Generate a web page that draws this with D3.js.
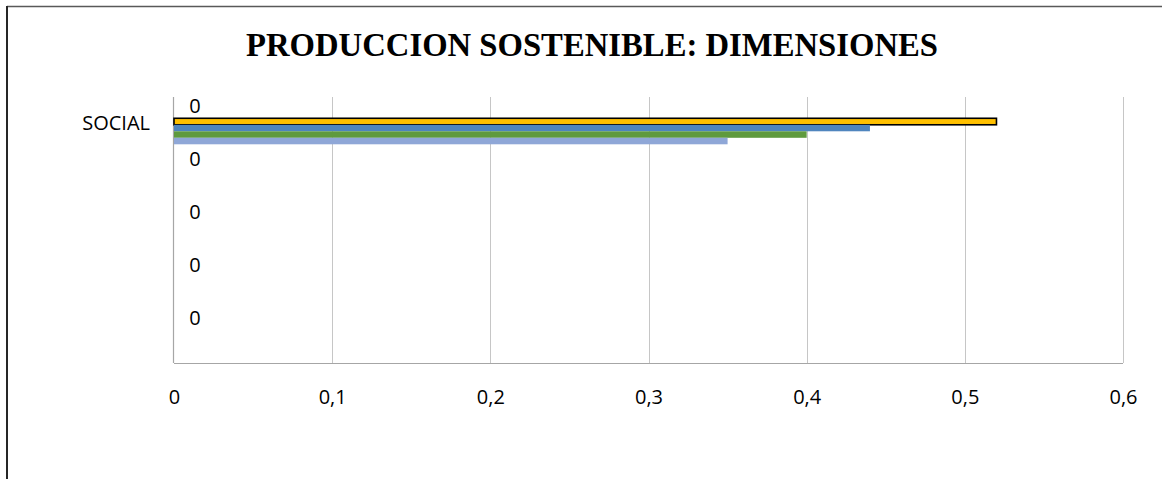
<!DOCTYPE html>
<html>
<head>
<meta charset="utf-8">
<script src="https://cdn.jsdelivr.net/npm/d3@7"></script>
<style>
html,body{margin:0;padding:0;background:#fff;}
svg{display:block;}
</style>
</head>
<body>
<svg id="chart" width="1162" height="479"></svg>
<script>
// ---- data ----
const title = "PRODUCCION SOSTENIBLE: DIMENSIONES";
const categories = ["SOCIAL", "", "", "", ""];
const seriesNames = ["Serie 1", "Serie 2", "Serie 3", "Serie 4"];
const seriesColors = ["#FFC000", "#4F85BE", "#5F9A3E", "#8FA7D7"];
const serie1 = [0.52, 0, 0, 0, 0];
const serie2 = [0.44, 0, 0, 0, 0];
const serie3 = [0.40, 0, 0, 0, 0];
const serie4 = [0.35, 0, 0, 0, 0];
const zeroLabels = ["0", "0", "0", "0", "0"];
const xTicks = [0, 0.1, 0.2, 0.3, 0.4, 0.5, 0.6];
const xTickLabels = ["0", "0,1", "0,2", "0,3", "0,4", "0,5", "0,6"];

const seriesValues = [serie1, serie2, serie3, serie4];

// ---- layout ----
const W = 1162, H = 479;
const plot = {left: 174, right: 1123, top: 97, bottom: 363};
const svg = d3.select("#chart");
const labelFont = "'Open Sans', 'Noto Sans', sans-serif";
const labelSize = 20;

svg.append("rect").attr("width", W).attr("height", H).attr("fill", "#fff");

// chart frame (top and left edges visible)
svg.append("line").attr("x1", 7).attr("x2", W).attr("y1", 6.5).attr("y2", 6.5)
  .attr("stroke", "#595959").attr("stroke-width", 1.5);
svg.append("line").attr("x1", 7).attr("x2", 7).attr("y1", 6).attr("y2", H)
  .attr("stroke", "#262626").attr("stroke-width", 2);

// title
svg.append("text")
  .attr("x", 592).attr("y", 56)
  .attr("text-anchor", "middle")
  .attr("font-family", "'Liberation Serif', 'Times New Roman', serif")
  .attr("font-weight", "bold")
  .attr("font-size", 32.7)
  .attr("fill", "#000")
  .text(title);

// scales
const x = d3.scaleLinear().domain([0, 0.6]).range([plot.left, plot.right]);
const y = d3.scaleBand().domain(d3.range(categories.length)).range([plot.top, plot.bottom]).padding(0);
const bw = y.bandwidth();
const ySub = d3.scaleBand().domain(seriesNames).range([0.40 * bw, 0.889 * bw]).padding(0);

// gridlines
svg.append("g").selectAll("line").data(xTicks.filter(t => t > 0)).join("line")
  .attr("x1", d => Math.round(x(d)) + 0.5).attr("x2", d => Math.round(x(d)) + 0.5)
  .attr("y1", plot.top).attr("y2", plot.bottom)
  .attr("stroke", "#C6C6C6").attr("stroke-width", 1);

// x axis (bottom)
const xAxis = d3.axisBottom(x).tickValues(xTicks)
  .tickFormat((d, i) => xTickLabels[i]).tickSize(0).tickPadding(27);
const gx = svg.append("g").attr("transform", `translate(0,${plot.bottom})`).call(xAxis);
gx.attr("font-family", labelFont).attr("font-size", labelSize);
gx.select(".domain").attr("stroke", "#A6A6A6").attr("stroke-width", 1.2)
  .attr("d", `M${plot.left},0.5H${plot.right}`);
gx.selectAll("text").attr("fill", "#000");

// y axis (left)
const yAxis = d3.axisLeft(y).tickFormat(i => categories[i]).tickSize(0).tickPadding(24);
const gy = svg.append("g").attr("transform", `translate(${plot.left},0)`).call(yAxis);
gy.attr("font-family", labelFont).attr("font-size", labelSize);
gy.select(".domain").attr("stroke", "#A6A6A6").attr("stroke-width", 1.2)
  .attr("d", `M-0.5,${plot.top}V${plot.bottom}`);
gy.selectAll("text").attr("fill", "#000");

// bars
seriesValues.forEach((vals, si) => {
  const name = seriesNames[si];
  svg.append("g").selectAll("rect").data(vals.map((v, i) => ({v, i})).filter(d => d.v > 0)).join("rect")
    .attr("x", x(0))
    .attr("y", d => y(d.i) + ySub(name))
    .attr("width", d => x(d.v) - x(0))
    .attr("height", ySub.bandwidth())
    .attr("fill", seriesColors[si])
    .attr("stroke", si === 0 ? "#000" : "none")
    .attr("stroke-width", si === 0 ? 1.6 : 0);
});

// zero data labels
svg.append("g").selectAll("text").data(zeroLabels).join("text")
  .attr("x", x(0) + 21)
  .attr("y", (d, i) => y(i) + 0.163 * bw)
  .attr("dy", "0.35em")
  .attr("text-anchor", "middle")
  .attr("font-family", labelFont).attr("font-size", labelSize).attr("fill", "#000")
  .text(d => d);
</script>
</body>
</html>
